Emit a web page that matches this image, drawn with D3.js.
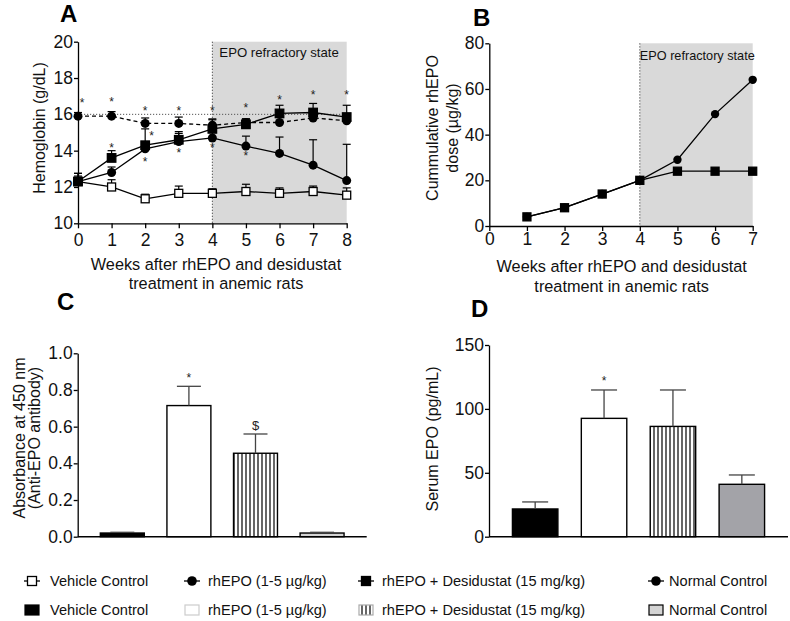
<!DOCTYPE html>
<html>
<head>
<meta charset="utf-8">
<script src="https://cdn.jsdelivr.net/npm/d3@7"></script>
<style>
  body { margin: 0; background: #fff; }
  svg { display: block; font-family: "Liberation Sans", Arial, sans-serif; }
</style>
</head>
<body>
<svg id="chart"></svg>
<script>
// ---- dati ----
const groups = ["Vehicle Control", "rhEPO (1-5 µg/kg)", "rhEPO + Desidustat (15 mg/kg)", "Normal Control"];

// Pannello A: emoglobina (g/dL)
const weeksA = [0, 1, 2, 3, 4, 5, 6, 7, 8];
const vehicleHb    = [12.3, 12.0, 11.35, 11.65, 11.65, 11.75, 11.65, 11.75, 11.55];
const vehicleErr   = [0.45, 0.4, 0.25, 0.4, 0.25, 0.4, 0.3, 0.3, 0.4];
const rhepoHb      = [12.3, 12.8, 14.1, 14.5, 14.7, 14.25, 13.85, 13.2, 12.35];
const rhepoErr     = [0.3, 0.3, 0.3, 0.45, 0.3, 0.55, 0.9, 1.4, 2.0];
const rhepoDesHb   = [12.3, 13.6, 14.3, 14.6, 15.2, 15.45, 16.05, 16.1, 15.85];
const rhepoDesErr  = [0.45, 0.4, 0.9, 0.45, 0.55, 0.3, 0.45, 0.5, 0.65];
const normalHb     = [15.9, 15.9, 15.5, 15.5, 15.4, 15.55, 15.55, 15.8, 15.65];
const normalErr    = [0.2, 0.25, 0.3, 0.35, 0.3, 0.2, 0.3, 0.25, 0.3];
const normalLevel  = 16;
// asterischi: [settimana, valore]
const starsA = [
  [0.12, 16.75], [1, 16.85], [2, 16.35], [3, 16.35], [4, 16.35], [5, 16.5], [6, 16.95], [7, 17.2], [8, 17.2],
  [1, 14.3], [2.19, 14.95], [2, 13.5], [3, 14.03], [4, 14.3], [5, 13.85]
];

// Pannello B: dose cumulativa rhEPO (µg/kg)
const weeksB = [1, 2, 3, 4, 5, 6, 7];
const rhepoDose    = [4, 8, 14, 20, 29, 49, 64];
const rhepoDesDose = [4, 8, 14, 20, 24, 24, 24];
const refractoryStart = 4;

// Pannello C: anticorpi anti-EPO
const absorbance    = [0.02, 0.715, 0.455, 0.02];
const absorbanceErr = [0.004, 0.105, 0.105, 0.004];
const marksC = ["", "*", "$", ""];

// Pannello D: EPO sierica (pg/mL)
const serumEpo    = [21.7, 92.6, 86.3, 41];
const serumEpoErr = [5.5, 22.2, 28.5, 7.3];
const marksD = ["", "*", "", ""];

// ---- setup ----
const W = 790, H = 621;
const svg = d3.select('#chart').attr('width', W).attr('height', H);

const defs = svg.append('defs');
const pat = defs.append('pattern')
  .attr('id', 'stripes')
  .attr('patternUnits', 'userSpaceOnUse')
  .attr('width', 4).attr('height', 4);
pat.append('rect').attr('width', 4).attr('height', 4).attr('fill', '#fff');
pat.append('line').attr('x1', 2).attr('y1', 0).attr('x2', 2).attr('y2', 4)
  .attr('stroke', '#000').attr('stroke-width', 1.2);

function styleAxis(g, size) {
  g.select('.domain').attr('stroke', '#000').attr('stroke-width', 1.3);
  g.selectAll('.tick line').attr('stroke', '#000').attr('stroke-width', 1.3);
  g.selectAll('.tick text').attr('font-size', size).attr('fill', '#111').attr('font-family', null);
}

function panelLabel(t, x, y) {
  svg.append('text').attr('x', x).attr('y', y)
    .attr('font-size', 24).attr('font-weight', 'bold').text(t);
}

function yTitle(lines, xs, cy, size) {
  lines.forEach((l, i) => {
    svg.append('text')
      .attr('transform', `translate(${xs[i]},${cy}) rotate(-90)`)
      .attr('text-anchor', 'middle').attr('font-size', size).attr('fill', '#111')
      .text(l);
  });
}

function xTitle(lines, cx, ys, size) {
  lines.forEach((l, i) => {
    svg.append('text').attr('x', cx).attr('y', ys[i])
      .attr('text-anchor', 'middle').attr('font-size', size).attr('fill', '#111')
      .text(l);
  });
}

function star(g, x, y, t, size) {
  g.append('text').attr('x', x).attr('y', y + size * 0.55)
    .attr('text-anchor', 'middle').attr('font-size', size).attr('fill', '#222')
    .text(t);
}

function squareMark(g, x, y, s, fill) {
  g.append('rect').attr('x', x - s / 2).attr('y', y - s / 2)
    .attr('width', s).attr('height', s)
    .attr('fill', fill).attr('stroke', '#000').attr('stroke-width', 1.3);
}

function circleMark(g, x, y, r) {
  g.append('circle').attr('cx', x).attr('cy', y).attr('r', r).attr('fill', '#000');
}

// ---- Pannello A ----
const xA = d3.scaleLinear().domain([0, 8]).range([78, 346.7]);
const yA = d3.scaleLinear().domain([10, 20]).range([223.3, 41.7]);
const gA = svg.append('g');

gA.append('rect')
  .attr('x', xA(refractoryStart)).attr('y', yA(20))
  .attr('width', xA(8) - xA(refractoryStart)).attr('height', yA(10) - yA(20))
  .attr('fill', '#d9d9d9');
gA.append('line')
  .attr('x1', xA(refractoryStart)).attr('x2', xA(refractoryStart))
  .attr('y1', yA(20)).attr('y2', yA(10))
  .attr('stroke', '#444').attr('stroke-width', 1).attr('stroke-dasharray', '1.2,1.8');
gA.append('line')
  .attr('x1', xA(0)).attr('x2', xA(8))
  .attr('y1', yA(normalLevel)).attr('y2', yA(normalLevel))
  .attr('stroke', '#555').attr('stroke-width', 1).attr('stroke-dasharray', '1.2,1.8');
gA.append('text').attr('x', xA(refractoryStart) + 7).attr('y', 56.5)
  .attr('font-size', 13.2).attr('fill', '#111').text('EPO refractory state');

gA.append('g').attr('transform', `translate(0,${yA(10)})`)
  .call(d3.axisBottom(xA).ticks(8).tickSize(5).tickSizeOuter(0).tickPadding(5))
  .call(g => styleAxis(g, 17.5));
gA.append('g').attr('transform', `translate(${xA(0)},0)`)
  .call(d3.axisLeft(yA).tickValues([10, 12, 14, 16, 18, 20]).tickSize(4).tickSizeOuter(0).tickPadding(1))
  .call(g => styleAxis(g, 17.5));

const seriesA = [
  { vals: vehicleHb, err: vehicleErr, dash: null, mark: 'open' },
  { vals: normalHb, err: normalErr, dash: '4,3', mark: 'circle' },
  { vals: rhepoHb, err: rhepoErr, dash: null, mark: 'circle' },
  { vals: rhepoDesHb, err: rhepoDesErr, dash: null, mark: 'square' }
];
const lineA = d3.line().x((d, i) => xA(weeksA[i])).y(d => yA(d));

seriesA.forEach(s => {
  gA.append('path').datum(s.vals).attr('d', lineA)
    .attr('fill', 'none').attr('stroke', '#000').attr('stroke-width', 1.3)
    .attr('stroke-dasharray', s.dash);
});
seriesA.forEach(s => {
  s.vals.forEach((v, i) => {
    const x = xA(weeksA[i]), y0 = yA(v), y1 = yA(v + s.err[i]);
    gA.append('line').attr('x1', x).attr('x2', x).attr('y1', y0).attr('y2', y1)
      .attr('stroke', '#000').attr('stroke-width', 1.2);
    gA.append('line').attr('x1', x - 4).attr('x2', x + 4).attr('y1', y1).attr('y2', y1)
      .attr('stroke', '#000').attr('stroke-width', 1.2);
  });
});
seriesA.forEach(s => {
  s.vals.forEach((v, i) => {
    const x = xA(weeksA[i]), y = yA(v);
    if (s.mark === 'open') squareMark(gA, x, y, 8, '#fff');
    else if (s.mark === 'square') squareMark(gA, x, y, 8.5, '#000');
    else circleMark(gA, x, y, 4.5);
  });
});
starsA.forEach(([w, v]) => star(gA, xA(w), yA(v), '*', 12));

panelLabel('A', 60, 22);
yTitle(['Hemoglobin (g/dL)'], [45], 128, 16);
xTitle(['Weeks after rhEPO and desidustat', 'treatment in anemic rats'], 216, [270, 289], 16.3);

// ---- Pannello B ----
const xB = d3.scaleLinear().domain([0, 7]).range([489.3, 752.7]);
const yB = d3.scaleLinear().domain([0, 80]).range([226, 43.3]);
const gB = svg.append('g');

gB.append('rect')
  .attr('x', xB(refractoryStart)).attr('y', yB(80))
  .attr('width', xB(7) - xB(refractoryStart)).attr('height', yB(0) - yB(80))
  .attr('fill', '#d9d9d9');
gB.append('line')
  .attr('x1', xB(refractoryStart)).attr('x2', xB(refractoryStart))
  .attr('y1', yB(80)).attr('y2', yB(0))
  .attr('stroke', '#444').attr('stroke-width', 1).attr('stroke-dasharray', '1.2,1.8');
gB.append('text').attr('x', xB(refractoryStart)).attr('y', 59.5)
  .attr('font-size', 12.7).attr('fill', '#111').text('EPO refractory state');

gB.append('g').attr('transform', `translate(0,${yB(0)})`)
  .call(d3.axisBottom(xB).ticks(7).tickSize(5).tickSizeOuter(0).tickPadding(2))
  .call(g => styleAxis(g, 17.5));
gB.append('g').attr('transform', `translate(${xB(0)},0)`)
  .call(d3.axisLeft(yB).tickValues([0, 20, 40, 60, 80]).tickSize(4).tickSizeOuter(0).tickPadding(1))
  .call(g => styleAxis(g, 17.5));

const lineB = d3.line().x((d, i) => xB(weeksB[i])).y(d => yB(d));
[rhepoDose, rhepoDesDose].forEach(vals => {
  gB.append('path').datum(vals).attr('d', lineB)
    .attr('fill', 'none').attr('stroke', '#000').attr('stroke-width', 1.3);
});
rhepoDose.forEach((v, i) => circleMark(gB, xB(weeksB[i]), yB(v), 4.2));
rhepoDesDose.forEach((v, i) => squareMark(gB, xB(weeksB[i]), yB(v), 8, '#000'));

panelLabel('B', 473, 26);
yTitle(['Cummulative rhEPO', 'dose (µg/kg)'], [438, 458], 128, 16);
xTitle(['Weeks after rhEPO and desidustat', 'treatment in anemic rats'], 621.7, [272, 292], 16.3);

// ---- Pannelli C e D (barre) ----
function barPanel(opts) {
  const x = d3.scaleBand().domain(groups).range([opts.left, opts.right])
    .paddingInner(0.34).paddingOuter(0.34);
  const y = d3.scaleLinear().domain(opts.domain).range([opts.bottom, opts.top]);
  const g = svg.append('g');

  g.selectAll('rect.bar').data(groups).enter().append('rect')
    .attr('class', 'bar')
    .attr('x', d => x(d)).attr('width', x.bandwidth())
    .attr('y', (d, i) => y(opts.vals[i]))
    .attr('height', (d, i) => y(0) - y(opts.vals[i]))
    .attr('fill', (d, i) => opts.fills[i])
    .attr('stroke', '#000').attr('stroke-width', 1.4);

  groups.forEach((d, i) => {
    const cx = x(d) + x.bandwidth() / 2;
    const y0 = y(opts.vals[i]), y1 = y(opts.vals[i] + opts.errs[i]);
    g.append('line').attr('x1', cx).attr('x2', cx).attr('y1', y0).attr('y2', y1)
      .attr('stroke', '#444').attr('stroke-width', 1.3);
    g.append('line').attr('x1', cx - opts.cap / 2).attr('x2', cx + opts.cap / 2)
      .attr('y1', y1).attr('y2', y1)
      .attr('stroke', '#444').attr('stroke-width', 1.3);
    if (opts.marks[i]) star(g, cx, opts.markY[i], opts.marks[i], opts.marks[i] === '$' ? 13 : 12);
  });

  g.append('line').attr('x1', opts.left).attr('x2', opts.right)
    .attr('y1', y(0)).attr('y2', y(0))
    .attr('stroke', '#000').attr('stroke-width', 1.4);
  g.append('g').attr('transform', `translate(${opts.left},0)`)
    .call(d3.axisLeft(y).tickValues(opts.ticks).tickFormat(opts.fmt).tickSize(4).tickSizeOuter(0).tickPadding(1))
    .call(a => styleAxis(a, 17.5));
  return y;
}

barPanel({
  left: 77.7, right: 366.7, top: 353.3, bottom: 536.7, domain: [0, 1],
  vals: absorbance, errs: absorbanceErr, cap: 24,
  fills: ['#000', '#fff', 'url(#stripes)', '#d4d4d4'],
  marks: marksC, markY: [0, 375, 423, 0],
  ticks: [0, 0.2, 0.4, 0.6, 0.8, 1.0], fmt: d3.format('.1f')
});
panelLabel('C', 57, 310);
yTitle(['Absorbance at 450 nm', '(Anti-EPO antibody)'], [25, 40], 438, 16);

barPanel({
  left: 489, right: 788, top: 345, bottom: 536.7, domain: [0, 150],
  vals: serumEpo, errs: serumEpoErr, cap: 26,
  fills: ['#000', '#fff', 'url(#stripes)', '#a3a3a8'],
  marks: marksD, markY: [0, 378, 0, 0],
  ticks: [0, 50, 100, 150], fmt: d3.format('d')
});
panelLabel('D', 471, 317);
yTitle(['Serum EPO (pg/mL)'], [438, 0], 439, 16);

// ---- Legenda ----
const legX = [32, 192, 366, 656];
const legTextX = [50, 208, 382, 669];
const legY = [581, 610];
const leg = svg.append('g');

groups.forEach((name, i) => {
  const cx = legX[i], cy = legY[0];
  leg.append('line').attr('x1', cx - 8).attr('x2', cx + 8).attr('y1', cy).attr('y2', cy)
    .attr('stroke', '#000').attr('stroke-width', 1.3);
  if (i === 0) squareMark(leg, cx, cy, 9, '#fff');
  else if (i === 2) squareMark(leg, cx, cy, 9, '#000');
  else circleMark(leg, cx, cy, 4.8);
  leg.append('text').attr('x', legTextX[i]).attr('y', cy + 5)
    .attr('font-size', 14.6).attr('fill', '#111').text(name);
});

const legFills = ['#000', '#fff', 'url(#stripes)', '#d4d4d4'];
const legStroke = ['#000', '#ccc', '#aaa', '#000'];
groups.forEach((name, i) => {
  const cx = legX[i], cy = legY[1];
  leg.append('rect').attr('x', cx - 7).attr('y', cy - 5).attr('width', 14).attr('height', 10)
    .attr('fill', legFills[i]).attr('stroke', legStroke[i]).attr('stroke-width', 1.2);
  leg.append('text').attr('x', legTextX[i]).attr('y', cy + 5)
    .attr('font-size', 14.6).attr('fill', '#111').text(name);
});
</script>
</body>
</html>
